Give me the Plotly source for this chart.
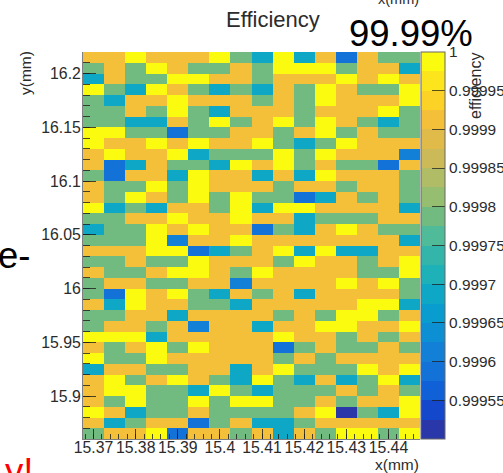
import plotly.graph_objects as go

# Cell codes, top row first, 16 columns x 36 rows
Y, O, G, T, L, B, D = 1.0, 0.99991, 0.99979, 0.99969, 0.99962, 0.99959, 0.99951
levels = {"Y": Y, "O": O, "G": G, "T": T, "L": L, "B": B, "D": D}
rows_top_down = [
    "OOYOOOYGTYTOBOGG",
    "GOGYOGGOGYYYGOOT",
    "TOGGYYOOGOOOYOYO",
    "YGTYOGTGTOGYOGGY",
    "GTOOYOOOGOGYOOOY",
    "GGOGYGTOOOGOOOYG",
    "GGTTOGYGOYGYOGTG",
    "YYGGBGGOOGOYGOGG",
    "YOOYOYOOYGTGYOOO",
    "OYOOYTGGGYGYOOOL",
    "OBTOGGTYOYGOGGBO",
    "GBOOTYOOTOTYOOOG",
    "OGGYGYOOOGOOGOOG",
    "OGYOGYGYGGBTOGOG",
    "YTGTOOGYTYYOOOOT",
    "GGOOYOOYOOTGGGOO",
    "TGGYOYOOBGTOYOGG",
    "GGGYLOOYOOOOOOOT",
    "OOOYYBTGOYTYTTOO",
    "GGOGGYOOOGYOOGOY",
    "OGGOYYOGYOOOOGGY",
    "GOOGGOOLOOOOYOYG",
    "GBYOYGTOGOTOOOOG",
    "OTYOOGGTOOOOOYYT",
    "GGOOTOOOOGOGYYGO",
    "GOOGOLOOTOOYYOOY",
    "YYYTOOOOOYOOGOGO",
    "OGOYGYOOOBGOGGOG",
    "YGGYOOOOOGOGOOOO",
    "TOOGGOOTOYGGGYOY",
    "OYGOYOGTYGTOTGYT",
    "OYYGGTYGTGGGOGOG",
    "OGYGGYGYYGGOGOOY",
    "YOTGGOGGGGOYDGTY",
    "OTGOOBGOTTGOOOOO",
    "GOOYBOOGOTOGYYGY",
]
x_centers = [15.37 + 0.005 * i for i in range(16)]
y_centers = [15.865 + 0.01 * i for i in range(36)]
z_rows = [[levels[c] for c in r] for r in reversed(rows_top_down)]

x_ticks = [15.37, 15.38, 15.39, 15.40, 15.41, 15.42, 15.43, 15.44]
x_ticktext = ["15.37", "15.38", "15.39", "15.4", "15.41", "15.42", "15.43", "15.44"]
y_ticks = [15.9, 15.95, 16.0, 16.05, 16.1, 16.15, 16.2]
y_ticktext = ["15.9", "15.95", "16", "16.05", "16.1", "16.15", "16.2"]
cb_ticks = [0.99955, 0.9996, 0.99965, 0.9997, 0.99975, 0.9998, 0.99985, 0.9999, 0.99995, 1.0]
cb_ticktext = ["0.99955", "0.9996", "0.99965", "0.9997", "0.99975", "0.9998", "0.99985", "0.9999", "0.99995", "1"]

# 20 colour bands, lowest first
band_colors = [
    "#2a37a8", "#1448cc", "#1060d8", "#1372d8", "#1180d6",
    "#0c8fd3", "#099dcf", "#0ea8c6", "#1fb1b8", "#33b6a9",
    "#4fbb98", "#72bb80", "#95be70", "#b0bd66", "#ccb958",
    "#e0bb4a", "#f4c03a", "#fdd227", "#fde51d", "#fafb0e",
]
colorscale = []
n = len(band_colors)
for i, c in enumerate(band_colors):
    colorscale.append([i / n, c])
    colorscale.append([(i + 1) / n, c])

FONT = "Liberation Sans"
TEXT = "#2b2b2b"
W, H = 503, 473
L_M, R_M, T_M, B_M = 83, 83, 52, 34
PW, PH = W - L_M - R_M, H - T_M - B_M

fig = go.Figure(go.Heatmap(
    x=x_centers, y=y_centers, z=z_rows, zmin=0.9995, zmax=1.0,
    colorscale=colorscale, xgap=0, ygap=0, hoverinfo="skip",
    colorbar=dict(
        x=(421 - L_M) / PW, xanchor="left", xref="paper", y=0, yanchor="bottom", yref="paper",
        len=1, lenmode="fraction", thickness=24, thicknessmode="pixels",
        xpad=0, ypad=0, outlinewidth=1, outlinecolor="#666666",
        tickmode="array", tickvals=cb_ticks, ticktext=cb_ticktext,
        ticks="inside", ticklen=13, tickwidth=1, tickcolor="rgba(30,30,30,0.75)",
        tickfont=dict(family=FONT, size=15.4, color=TEXT),
    ),
))


def px_note(text, px, py, size, color=TEXT, xanchor="center", yanchor="middle", angle=0):
    fig.add_annotation(
        text=text, x=(px - L_M) / PW, y=1 - (py - T_M) / PH, xref="paper", yref="paper",
        xanchor=xanchor, yanchor=yanchor, showarrow=False, textangle=angle,
        font=dict(family=FONT, size=size, color=color), borderpad=0, borderwidth=0,
    )


px_note("Efficiency", 273, 19, 22)
px_note("99.99%", 411, 33, 36.5, color="#000000")
px_note("x(mm)", 398, -1, 14.5)
px_note("e-", 30, 255, 36.5, color="#000000", xanchor="right")
px_note("y!", 33, 471, 36.5, color="#ff0000", xanchor="right")
px_note("y(mm)", 25, 73, 15.5, angle=-90)
px_note("x(mm)", 397, 464, 15.5)
px_note("efficiency", 475, 86, 16, angle=-90)

axis_line = dict(showline=True, linecolor="#7f7f7f", linewidth=1, mirror=False,
                 zeroline=False, showgrid=False, ticks="inside", tickcolor="rgba(30,30,30,0.8)",
                 tickwidth=1, layer="above traces")
fig.update_xaxes(
    range=[15.3675, 15.4475], tickmode="array", tickvals=x_ticks, ticktext=x_ticktext, ticklen=10,
    tickfont=dict(family=FONT, size=15.8, color=TEXT), tickangle=0, ticklabelstandoff=-6,
    minor=dict(ticks="inside", dtick=0.002, tick0=15.37, ticklen=5, tickwidth=1,
               tickcolor="rgba(30,30,30,0.8)"),
    **axis_line,
)
fig.update_yaxes(
    range=[15.86, 16.22], tickmode="array", tickvals=y_ticks, ticktext=y_ticktext, ticklen=13,
    tickfont=dict(family=FONT, size=15.8, color=TEXT), ticklabelstandoff=-2,
    minor=dict(ticks="inside", dtick=0.01, tick0=15.86, ticklen=7, tickwidth=1,
               tickcolor="rgba(30,30,30,0.8)"),
    **axis_line,
)
fig.update_layout(
    width=W, height=H, margin=dict(l=L_M, r=R_M, t=T_M, b=B_M, pad=0, autoexpand=False),
    paper_bgcolor="white", plot_bgcolor="white", showlegend=False,
)
fig.write_html("out.html", config=dict(displayModeBar=False),
               post_script="document.body.style.margin='0';document.body.style.overflow='hidden';")
